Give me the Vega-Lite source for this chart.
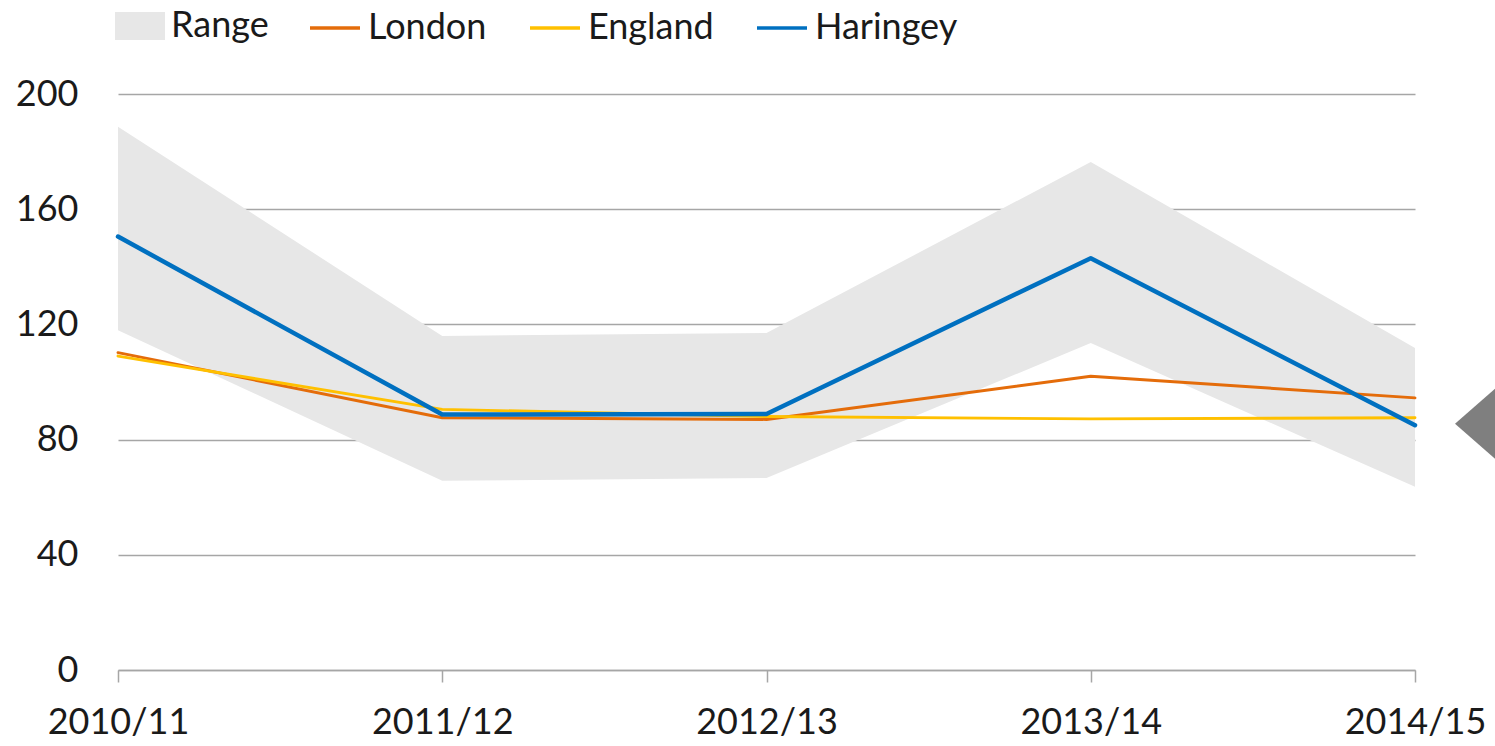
{
  "$schema": "https://vega.github.io/schema/vega-lite/v6.json",
  "width": 1297,
  "height": 576,
  "autosize": "none",
  "padding": {"left": 118, "top": 94, "right": 80, "bottom": 76},
  "background": "white",
  "config": {
    "view": {"stroke": null},
    "font": "Lato",
    "axis": {"labelFont": "Lato", "labelFontSize": 36, "labelColor": "#1a1a1a", "title": null},
    "legend": {"labelFont": "Lato", "labelFontSize": 36, "labelColor": "#1a1a1a", "labelOffset": 6, "columnPadding": 36, "title": null, "direction": "horizontal", "orient": "none"}
  },
  "datasets": {
    "band": [
      {"year": "2010/11", "series": "Range", "lo": 118, "hi": 188.6},
      {"year": "2011/12", "series": "Range", "lo": 65.7, "hi": 116},
      {"year": "2012/13", "series": "Range", "lo": 66.7, "hi": 117},
      {"year": "2013/14", "series": "Range", "lo": 113.5, "hi": 176.4},
      {"year": "2014/15", "series": "Range", "lo": 63.6, "hi": 111.8}
    ],
    "lines": [
      {"year": "2010/11", "series": "London", "value": 110.2},
      {"year": "2011/12", "series": "London", "value": 87.6},
      {"year": "2012/13", "series": "London", "value": 87},
      {"year": "2013/14", "series": "London", "value": 102},
      {"year": "2014/15", "series": "London", "value": 94.5},
      {"year": "2010/11", "series": "England", "value": 109},
      {"year": "2011/12", "series": "England", "value": 90.5},
      {"year": "2012/13", "series": "England", "value": 88},
      {"year": "2013/14", "series": "England", "value": 87.2},
      {"year": "2014/15", "series": "England", "value": 87.6},
      {"year": "2010/11", "series": "Haringey", "value": 150.5},
      {"year": "2011/12", "series": "Haringey", "value": 88.7},
      {"year": "2012/13", "series": "Haringey", "value": 88.9},
      {"year": "2013/14", "series": "Haringey", "value": 143},
      {"year": "2014/15", "series": "Haringey", "value": 85}
    ],
    "marker": [
      {"year": "2014/15", "value": 85.5}
    ]
  },
  "encoding": {
    "x": {
      "field": "year",
      "type": "ordinal",
      "scale": {"type": "point", "padding": 0},
      "axis": {
        "labelAngle": 0,
        "labelPadding": 23,
        "tickSize": 12,
        "tickColor": "#a6a6a6",
        "tickWidth": 1.5,
        "domainColor": "#a6a6a6",
        "domainWidth": 1.5,
        "grid": false
      }
    }
  },
  "layer": [
    {
      "data": {"name": "band"},
      "mark": {"type": "area", "opacity": 1},
      "encoding": {
        "y": {
          "field": "lo",
          "type": "quantitative",
          "scale": {"domain": [0, 200]},
          "axis": {
            "values": [0, 40, 80, 120, 160, 200],
            "domain": false,
            "ticks": false,
            "labelPadding": 40,
            "grid": true,
            "gridColor": "#a6a6a6",
            "gridWidth": 1.5
          }
        },
        "y2": {"field": "hi"},
        "fill": {
          "field": "series",
          "type": "nominal",
          "scale": {"domain": ["Range"], "range": ["#e7e7e7"]},
          "legend": {
            "legendX": -3,
            "legendY": -93,
            "symbolSize": 2500,
            "symbolType": "M-1,-0.56H1V0.56H-1Z",
            "symbolStrokeWidth": 0,
            "symbolOpacity": 1
          }
        }
      }
    },
    {
      "data": {"name": "lines"},
      "transform": [{"filter": "datum.series !== 'Haringey'"}],
      "mark": {"type": "line", "strokeWidth": 2.9, "strokeCap": "round", "strokeJoin": "round"},
      "encoding": {
        "y": {"field": "value", "type": "quantitative"},
        "stroke": {
          "field": "series",
          "type": "nominal",
          "scale": {
            "domain": ["London", "England", "Haringey"],
            "range": ["#e46c0a", "#ffc000", "#0070c0"]
          },
          "legend": {
            "legendX": 190,
            "legendY": -93,
            "columns": 3,
            "symbolSize": 2500,
            "symbolStrokeWidth": 3.5,
            "symbolType": "M-1,0H1"
          }
        }
      }
    },
    {
      "data": {"name": "lines"},
      "transform": [{"filter": "datum.series === 'Haringey'"}],
      "mark": {"type": "line", "strokeWidth": 4.5, "strokeCap": "round", "strokeJoin": "round"},
      "encoding": {
        "y": {"field": "value", "type": "quantitative"},
        "stroke": {"field": "series", "type": "nominal"}
      }
    },
    {
      "data": {"name": "marker"},
      "mark": {
        "type": "point",
        "shape": "M-1,0L2,-2.625L2,2.625Z",
        "filled": true,
        "color": "#7f7f7f",
        "opacity": 1,
        "size": 1600,
        "xOffset": 60
      },
      "encoding": {
        "y": {"field": "value", "type": "quantitative"}
      }
    }
  ]
}
